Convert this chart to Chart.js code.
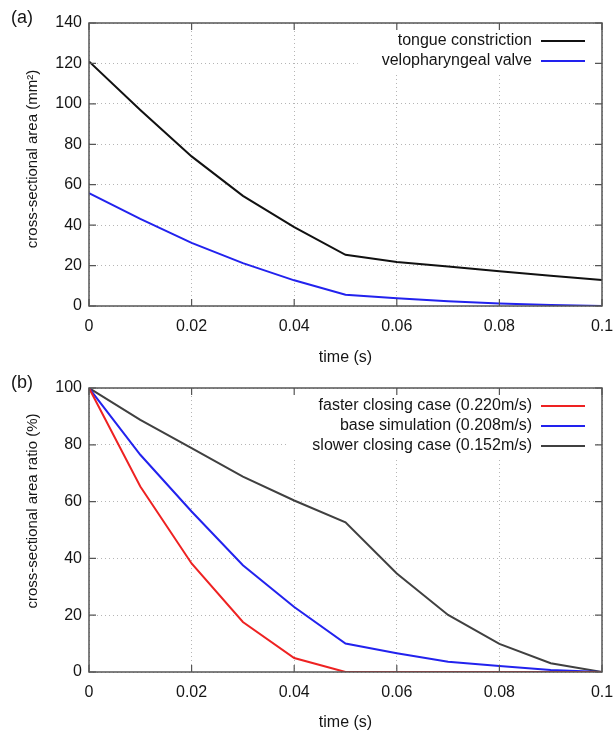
<!DOCTYPE html>
<html>
<head>
<meta charset="utf-8">
<script src="https://cdn.jsdelivr.net/npm/chart.js@4"></script>
<style>
  body { margin: 0; background: #fff; width: 615px; height: 732px; position: relative; overflow: hidden; }
  canvas { position: absolute; left: 0; }
  #chartA { top: 0; }
  #chartB { top: 367px; }
</style>
</head>
<body>
<canvas id="chartA" width="615" height="367"></canvas>
<canvas id="chartB" width="615" height="365"></canvas>
<script>
// time samples (s)
const times = [0, 0.01, 0.02, 0.03, 0.04, 0.05, 0.06, 0.07, 0.08, 0.09, 0.1];
const xTickLabels = ["0", "0.02", "0.04", "0.06", "0.08", "0.1"];

// (a) cross-sectional area (mm2)
const tongueArea = [121, 97, 74, 54.5, 39, 25.3, 21.8, 19.5, 17.2, 15, 12.8];
const veloArea = [55.8, 43.1, 31.2, 21.2, 12.7, 5.6, 3.8, 2.4, 1.2, 0.5, 0];

// (b) cross-sectional area ratio (%)
const fasterRatio = [100, 65.3, 38.2, 17.6, 4.9, 0, 0, 0, 0, 0, 0];
const baseRatio = [100, 76.5, 56.5, 37.6, 22.9, 10, 6.6, 3.6, 2.1, 0.7, 0];
const slowerRatio = [100, 88.8, 78.8, 68.8, 60.4, 52.7, 34.7, 20.1, 9.9, 3.1, 0];

const FONT = "'Liberation Sans', Arial, sans-serif";
const TEXT = "#151515";

function points(arr) {
  return times.map((t, i) => ({ x: t, y: arr[i] }));
}

// gnuplot-like frame, inward ticks, y title, panel label and key box
const framePlugin = {
  id: "frame",
  afterDraw(chart, args, opts) {
    const ctx = chart.ctx;
    const a = chart.chartArea;
    const xs = chart.scales.x;
    const ys = chart.scales.y;
    const sets = chart.data.datasets;
    ctx.save();

    // key background
    ctx.font = "16px " + FONT;
    let maxW = 0;
    sets.forEach((d) => { maxW = Math.max(maxW, ctx.measureText(d.label).width); });
    const textRight = 532;
    const rowTop = a.top + 18;
    const lastRow = rowTop + (sets.length - 1) * 20;
    const boxLeft = textRight - maxW - 24;
    ctx.fillStyle = "#fff";
    ctx.fillRect(boxLeft, a.top + 1, a.right - 8 - boxLeft, lastRow + 11 - a.top);

    // frame
    ctx.strokeStyle = "#555";
    ctx.lineWidth = 1.5;
    ctx.strokeRect(a.left, a.top, a.right - a.left, a.bottom - a.top);

    // inward tick marks
    ctx.lineWidth = 1.2;
    ctx.beginPath();
    xs.ticks.forEach((t) => {
      const px = xs.getPixelForValue(t.value);
      ctx.moveTo(px, a.bottom); ctx.lineTo(px, a.bottom - 7);
      ctx.moveTo(px, a.top); ctx.lineTo(px, a.top + 7);
    });
    ys.ticks.forEach((t) => {
      const py = ys.getPixelForValue(t.value);
      ctx.moveTo(a.left, py); ctx.lineTo(a.left + 7, py);
      ctx.moveTo(a.right, py); ctx.lineTo(a.right - 7, py);
    });
    ctx.stroke();

    // key entries: text right-aligned, sample line after it
    ctx.textAlign = "right";
    ctx.textBaseline = "middle";
    sets.forEach((d, i) => {
      const y = rowTop + i * 20;
      ctx.fillStyle = TEXT;
      ctx.fillText(d.label, textRight, y);
      ctx.strokeStyle = d.borderColor;
      ctx.lineWidth = 2;
      ctx.beginPath();
      ctx.moveTo(541, y);
      ctx.lineTo(585, y);
      ctx.stroke();
    });

    // y axis title (sits a little above the axis middle in the original)
    ctx.save();
    ctx.translate(33, opts.yTitleY);
    ctx.rotate(-Math.PI / 2);
    ctx.textAlign = "center";
    ctx.font = "15px " + FONT;
    ctx.fillStyle = TEXT;
    ctx.fillText(opts.yTitle, 0, 0);
    ctx.restore();

    // panel label
    ctx.textAlign = "left";
    ctx.fillStyle = TEXT;
    ctx.font = "18px " + FONT;
    ctx.fillText(opts.panel, 11, a.top - 5);
    ctx.restore();
  },
};

function makeOptions(yMax, yTitle, yTitleY, panel, topPad, xHeight) {
  return {
    responsive: false,
    animation: false,
    layout: { padding: { top: topPad, right: 13, left: 0, bottom: 0 } },
    plugins: {
      legend: { display: false },
      tooltip: { enabled: false },
      frame: { panel: panel, yTitle: yTitle, yTitleY: yTitleY },
    },
    elements: { point: { radius: 0 }, line: { borderWidth: 2, tension: 0 } },
    scales: {
      x: {
        type: "linear",
        min: 0,
        max: 0.1,
        ticks: {
          stepSize: 0.02,
          padding: 11,
          maxRotation: 0,
          color: TEXT,
          font: { family: FONT, size: 16 },
          callback: (v, i) => xTickLabels[i],
        },
        grid: { color: "rgba(150,150,150,0.7)", lineWidth: 1, drawTicks: false },
        border: { display: false, dash: [1, 3] },
        title: {
          display: true,
          text: "time (s)",
          color: TEXT,
          font: { family: FONT, size: 16 },
          padding: { top: 0, bottom: 0 },
        },
        afterFit: (s) => {
          s.height = xHeight;
          s.paddingLeft = 0;
          s.paddingRight = 0;
        },
      },
      y: {
        min: 0,
        max: yMax,
        ticks: {
          stepSize: 20,
          padding: 7,
          color: TEXT,
          font: { family: FONT, size: 16 },
        },
        grid: { color: "rgba(150,150,150,0.7)", lineWidth: 1, drawTicks: false },
        border: { display: false, dash: [1, 3] },
        afterFit: (s) => {
          s.width = 89;
          s.paddingTop = 0;
          s.paddingBottom = 0;
        },
      },
    },
  };
}

new Chart(document.getElementById("chartA"), {
  type: "line",
  data: {
    datasets: [
      { label: "tongue constriction", data: points(tongueArea), borderColor: "#111111" },
      { label: "velopharyngeal valve", data: points(veloArea), borderColor: "#2222ee" },
    ],
  },
  options: makeOptions(140, "cross-sectional area (mm\u00B2)", 159, "(a)", 23, 61),
  plugins: [framePlugin],
});

new Chart(document.getElementById("chartB"), {
  type: "line",
  data: {
    datasets: [
      { label: "faster closing case (0.220m/s)", data: points(fasterRatio), borderColor: "#ee2222" },
      { label: "base simulation (0.208m/s)", data: points(baseRatio), borderColor: "#2222ee" },
      { label: "slower closing case (0.152m/s)", data: points(slowerRatio), borderColor: "#404040" },
    ],
  },
  options: makeOptions(100, "cross-sectional area ratio (%)", 144, "(b)", 21, 60),
  plugins: [framePlugin],
});
</script>
</body>
</html>
